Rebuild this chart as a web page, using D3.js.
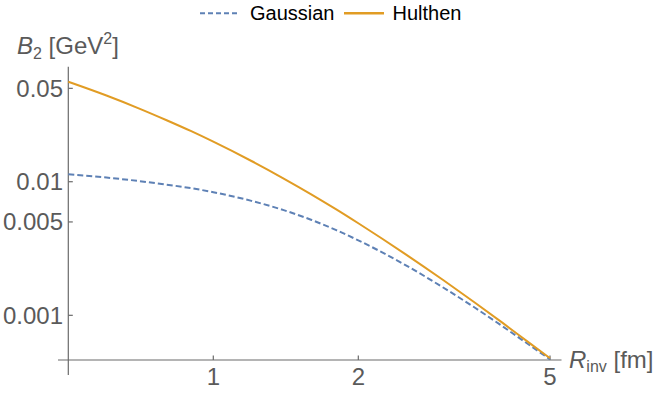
<!DOCTYPE html>
<html><head><meta charset="utf-8">
<script src="https://cdn.jsdelivr.net/npm/d3@7"></script>
<style>body{margin:0;background:#fff}svg{display:block}text{font-family:"Liberation Sans",Arial,sans-serif}</style>
</head><body><svg id="c" width="655" height="394"></svg>
<script>
const R = [0.5,0.6,0.7,0.8,0.9,1,1.2,1.4,1.6,1.8,2,2.5,3,3.5,4,4.5,5];
const hulthen = [0.0560,0.04417,0.03543,0.02886,0.02388,0.01993,0.01429,0.01057,0.00802,0.00621,0.00489,0.002886,0.001837,0.001237,0.000870,0.000633,0.000477];
const gaussian = [0.01136,0.01075,0.01012,0.00951,0.00894,0.00835,0.00719,0.00613,0.00517,0.00434,0.00364,0.002388,0.001615,0.001134,0.000820,0.000610,0.000468];
const xTicks = [1,2,5];
const xTickLabels = ["1","2","5"];
const yTicks = [0.05,0.01,0.005,0.001];
const yTickLabels = ["0.05","0.01","0.005","0.001"];
const xDomain = [0.5,5];
const yDomain = [0.000463,0.0726];
const seriesNames = ["Gaussian","Hulthen"];
const colors = ["#5E81B5","#E19C24"];

const svg = d3.select("#c");
const x = d3.scaleLog().domain(xDomain).range([68.3,550]);
const y = d3.scaleLog().domain(yDomain).range([360,66.7]);
const axisColor = "#6a6a6a", labelColor = "#5a5a5a";

// axes lines
svg.append("line").attr("x1",58).attr("x2",561.5).attr("y1",y(yDomain[0])).attr("y2",y(yDomain[0])).attr("stroke",axisColor).attr("stroke-width",1.2);
svg.append("line").attr("x1",x(xDomain[0])).attr("x2",x(xDomain[0])).attr("y1",y(yDomain[1])).attr("y2",375).attr("stroke",axisColor).attr("stroke-width",1.2);

// x ticks
const gx = svg.append("g");
xTicks.forEach((t,i)=>{
  gx.append("line").attr("x1",x(t)).attr("x2",x(t)).attr("y1",360).attr("y2",355.5).attr("stroke",axisColor).attr("stroke-width",1.2);
  gx.append("text").attr("x",x(t)).attr("y",385).attr("text-anchor","middle").attr("font-size",24).attr("fill",labelColor).text(xTickLabels[i]);
});
const gy = svg.append("g");
yTicks.forEach((t,i)=>{
  gy.append("line").attr("x1",68.3).attr("x2",72.8).attr("y1",y(t)).attr("y2",y(t)).attr("stroke",axisColor).attr("stroke-width",1.2);
  gy.append("text").attr("x",63).attr("y",y(t)+8.5).attr("text-anchor","end").attr("font-size",24).attr("fill",labelColor).text(yTickLabels[i]);
});

// axis labels
const yl = svg.append("text").attr("x",17).attr("y",54).attr("font-size",24).attr("fill",labelColor);
yl.append("tspan").attr("font-style","italic").text("B");
yl.append("tspan").attr("font-size",16).attr("dy",5).text("2");
yl.append("tspan").attr("dy",-5).text(" [GeV");
yl.append("tspan").attr("font-size",16).attr("dy",-10).text("2");
yl.append("tspan").attr("dy",10).text("]");

const xl = svg.append("text").attr("x",569).attr("y",368).attr("font-size",24).attr("fill",labelColor);
xl.append("tspan").attr("font-style","italic").text("R");
xl.append("tspan").attr("font-size",16).attr("dy",4).text("inv");
xl.append("tspan").attr("dy",-4).text(" [fm]");

// lines
const line = d3.line().x((d,i)=>x(R[i])).y(d=>y(d)).curve(d3.curveMonotoneX);
svg.append("path").attr("d",line(gaussian)).attr("fill","none").attr("stroke",colors[0]).attr("stroke-width",2).attr("stroke-dasharray","6,3");
svg.append("path").attr("d",line(hulthen)).attr("fill","none").attr("stroke",colors[1]).attr("stroke-width",2);

// legend
const lg = svg.append("g");
lg.append("line").attr("x1",200).attr("x2",240).attr("y1",13.3).attr("y2",13.3).attr("stroke",colors[0]).attr("stroke-width",2).attr("stroke-dasharray","5,3");
lg.append("text").attr("x",250).attr("y",20).attr("font-size",20).attr("fill","#000").text(seriesNames[0]);
lg.append("line").attr("x1",344).attr("x2",384).attr("y1",13.3).attr("y2",13.3).attr("stroke",colors[1]).attr("stroke-width",2.5);
lg.append("text").attr("x",392.5).attr("y",20).attr("font-size",20).attr("fill","#000").text(seriesNames[1]);
</script></body></html>
